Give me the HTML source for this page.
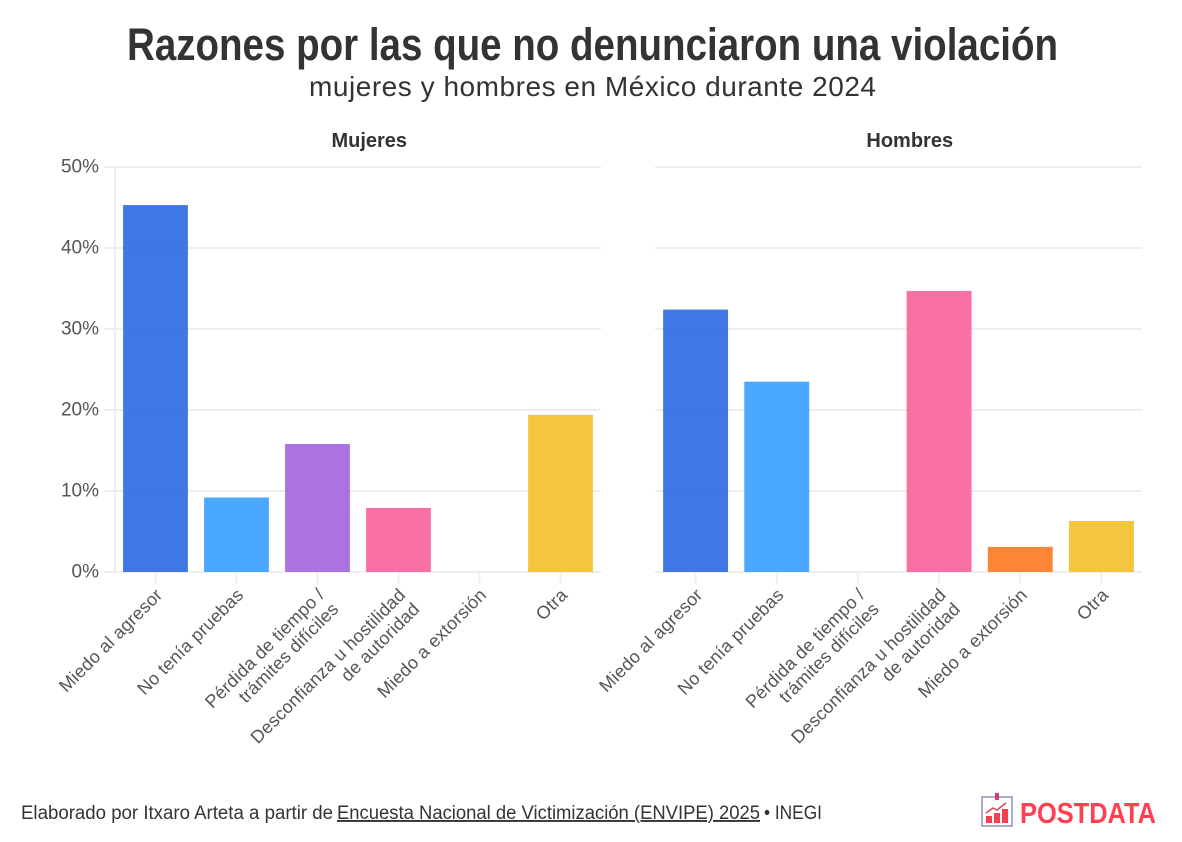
<!DOCTYPE html>
<html lang="es">
<head>
<meta charset="utf-8">
<title>Razones por las que no denunciaron una violación</title>
<style>
html,body{margin:0;padding:0;background:#fff;width:1182px;height:842px;overflow:hidden}
svg{display:block;font-family:"Liberation Sans",sans-serif}
</style>
</head>
<body>
<svg id="chart" width="1182" height="842" viewBox="0 0 1182 842" xmlns="http://www.w3.org/2000/svg">
  <text x="592.5" y="60" text-anchor="middle" font-size="45" font-weight="700" fill="#333" textLength="931" lengthAdjust="spacingAndGlyphs">Razones por las que no denunciaron una violación</text>
  <text x="592.5" y="96" text-anchor="middle" font-size="28" fill="#333" textLength="567" lengthAdjust="spacing">mujeres y hombres en México durante 2024</text>
  <g id="plots"></g>
  <text x="21" y="819" font-size="19" fill="#333" textLength="312" lengthAdjust="spacingAndGlyphs">Elaborado por Itxaro Arteta a partir de</text>
  <text x="337" y="819" font-size="19" fill="#333" text-decoration="underline" textLength="423" lengthAdjust="spacingAndGlyphs">Encuesta Nacional de Victimización (ENVIPE) 2025</text>
  <text x="764" y="819" font-size="19" fill="#333" textLength="58" lengthAdjust="spacingAndGlyphs">• INEGI</text>
  <g>
    <rect x="982" y="797" width="30" height="29" fill="#fff" stroke="#8f8fb8" stroke-width="1.5"/>
    <rect x="995" y="793" width="4" height="7" fill="#d83a6e"/>
    <rect x="986" y="816" width="6" height="7" fill="#f6404f"/>
    <rect x="994" y="813" width="6" height="10" fill="#f6404f"/>
    <rect x="1002" y="809" width="6" height="14" fill="#f6404f"/>
    <polyline points="986,813 993,808 997,810 1006,803" fill="none" stroke="#e0405a" stroke-width="1.5"/>
    <text x="1020" y="823" font-size="29" font-weight="700" fill="#ff4050" textLength="136" lengthAdjust="spacingAndGlyphs">POSTDATA</text>
  </g>
</svg>
<script>
const categories = [
  ["Miedo al agresor"],
  ["No tenía pruebas"],
  ["Pérdida de tiempo /", "trámites difíciles"],
  ["Desconfianza u hostilidad", "de autoridad"],
  ["Miedo a extorsión"],
  ["Otra"]
];
const mujeresValues = [45.3, 9.2, 15.8, 7.9, null, 19.4];
const hombresValues = [32.4, 23.5, null, 34.7, 3.1, 6.3];
const yTickValues = [0, 10, 20, 30, 40, 50];
const yTickLabels = ["0%", "10%", "20%", "30%", "40%", "50%"];
const panelTitles = ["Mujeres", "Hombres"];
const palette = ["#2a69e3", "#379eff", "#a263dd", "#f7619a", "#ff7820", "#f3c029"];

const NS = "http://www.w3.org/2000/svg";
const plots = document.getElementById("plots");
const plotTop = 167, plotBottom = 572, plotHeight = plotBottom - plotTop;
const yMax = 50;
const GRID = "#eeeeee";

function yScale(v) { return plotBottom - (v / yMax) * plotHeight; }
function bandCenter(left, width, i) { return left + (i + 0.5) * width / categories.length; }

function make(tag, attrs, parent) {
  const el = document.createElementNS(NS, tag);
  for (const k in attrs) el.setAttribute(k, attrs[k]);
  parent.appendChild(el);
  return el;
}

function drawPanel(title, values, left, width, showY) {
  const panel = make("g", {}, plots);
  
  

  const t = make("text", { x: left + width / 2 + 11.25, y: 147, "text-anchor": "middle", "font-size": 20, "font-weight": 700, fill: "#333" }, panel);
  
  
  t.textContent = title;

  yTickValues.forEach(function (v, i) {
    const line = make("line", { x1: showY ? left - 11 : left, x2: left + width, y1: yScale(v), y2: yScale(v), stroke: GRID, "stroke-width": 2 }, panel);
    
    
    if (showY) {
      const lab = make("text", { x: 99, y: yScale(v) + 5.5, "text-anchor": "end", "font-size": 19, fill: "#555" }, panel);
      
      
      lab.textContent = yTickLabels[i];
    }
  });

  if (showY) {
    const axis = make("line", { x1: left, x2: left, y1: plotTop, y2: plotBottom, stroke: GRID, "stroke-width": 2 }, panel);
    
    
  }

  const step = width / categories.length;
  const barW = step * 0.8;
  categories.forEach(function (cat, i) {
    const cx = bandCenter(left, width, i);
    const tick = make("line", { x1: cx, x2: cx, y1: plotBottom, y2: plotBottom + 11, stroke: GRID, "stroke-width": 2 }, panel);
    
    

    if (values[i] !== null) {
      const bar = make("rect", { x: cx - barW / 2, y: yScale(values[i]), width: barW, height: plotBottom - yScale(values[i]), fill: palette[i], "fill-opacity": 0.9 }, panel);
      
      
    }

    const lineH = 20;
    const label = make("text", { transform: "translate(" + (cx + 8) + "," + (plotBottom + 24) + ") rotate(-45)", "text-anchor": "end", "font-size": 18, fill: "#555", "letter-spacing": 0.2 }, panel);
    
    
    cat.forEach(function (ln, j) {
      const sp = make("tspan", { x: 0, y: j * lineH }, label);
      sp.textContent = ln;
    });
  });
}

drawPanel(panelTitles[0], mujeresValues, 115, 486, true);
drawPanel(panelTitles[1], hombresValues, 655, 487, false);
</script>
</body>
</html>
